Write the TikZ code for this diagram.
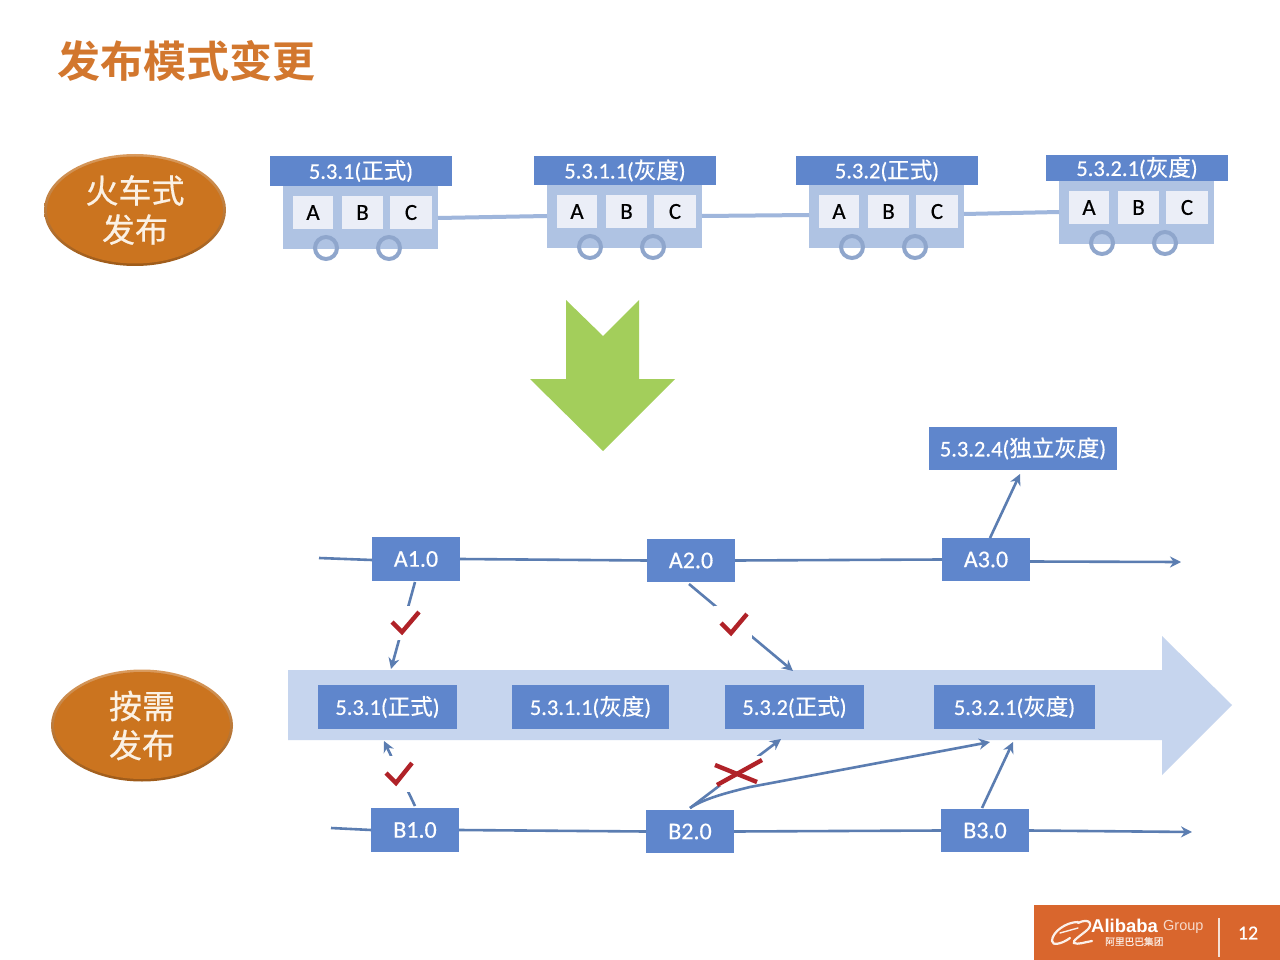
\documentclass[tikz,border=0pt]{standalone}
\usepackage{fontspec}
\setmainfont[FakeBold=0.4]{Carlito}
\newfontfamily\cjk[FakeBold=0.5]{Noto Sans CJK SC}
\newfontfamily\cjkbold{Noto Sans CJK SC Bold}
\newfontfamily\logofont{Liberation Sans}
\usetikzlibrary{arrows.meta,shapes.geometric}
\definecolor{hdr}{HTML}{5F86CC}
\definecolor{body}{HTML}{AFC3E3}
\definecolor{cell}{HTML}{EBEEF7}
\definecolor{wheel}{HTML}{8FA6CC}
\definecolor{linkc}{HTML}{9FB6DC}
\definecolor{band}{HTML}{C6D5EE}
\definecolor{flow}{HTML}{5B7DB1}
\definecolor{orangeb}{HTML}{CB741F}
\definecolor{titlec}{HTML}{D2772E}
\definecolor{greenb}{HTML}{A3CE5B}
\definecolor{markr}{HTML}{B02228}
\definecolor{foot}{HTML}{D9662D}
\definecolor{cream}{HTML}{FBF1E4}
\tikzset{
  boxbase/.style={anchor=north west,inner sep=0pt,outer sep=0pt},
  hdrbox/.style={boxbase,fill=hdr,text=white,font=\fontsize{22.5}{24}\selectfont},
  verbox/.style={hdrbox,font=\fontsize{24}{26}\selectfont},
  bodybox/.style={boxbase,fill=body},
  cellbox/.style={boxbase,fill=cell,text=black,font=\fontsize{23}{25}\selectfont},
  wheelc/.style={circle,draw=wheel,line width=4pt,minimum size=22pt,inner sep=0pt,outer sep=0pt},
  link/.style={draw=linkc,line width=4pt},
  flowl/.style={draw=flow,line width=2.6pt},
  flowa/.style={draw=flow,line width=2.6pt,-{Stealth[length=11pt,width=11pt]}},
  blob/.style={ellipse,top color=orangeb!72!white,bottom color=orangeb!78!black,text=cream,minimum width=182pt,minimum height=112pt,inner sep=0pt,align=center,font=\fontsize{33}{39}\selectfont\cjk,
    path picture={\fill[orangeb] (path picture bounding box.center) ellipse (88 and 53.5);}},
  markl/.style={draw=markr,line width=4.4pt,line join=miter},
  gap/.style={fill=white,draw=none},
  logol/.style={draw=white!90!foot,line cap=round},
}
\newcommand\rbox[7]{\node[#6,minimum width=\dimexpr #4pt-#2pt\relax,minimum height=\dimexpr #5pt-#3pt\relax] (#1) at (#2,#3) {\raisebox{-1.5pt}{#7}};}
\newcommand\train[5]{%
  \pgfmathtruncatemacro\hb{#3+#4}%
  \pgfmathtruncatemacro\bl{#2+13}\pgfmathtruncatemacro\br{#2+168}%
  \pgfmathtruncatemacro\bb{\hb+63}%
  \pgfmathtruncatemacro\cy{\hb+10}\pgfmathtruncatemacro\cb{\hb+43}%
  \pgfmathtruncatemacro\ax{#2+23}\pgfmathtruncatemacro\axx{#2+63}%
  \pgfmathtruncatemacro\bx{#2+72}\pgfmathtruncatemacro\bxx{#2+113}%
  \pgfmathtruncatemacro\ccx{#2+120}\pgfmathtruncatemacro\ccxx{#2+162}%
  \pgfmathtruncatemacro\hr{#2+182}%
  \pgfmathtruncatemacro\wa{#2+56}\pgfmathtruncatemacro\wb{#2+119}\pgfmathtruncatemacro\wy{\bb-1}%
  \rbox{#1body}{\bl}{\hb}{\br}{\bb}{bodybox}{}
  \node[wheelc] (#1wa) at (\wa,\wy) {};
  \node[wheelc] (#1wb) at (\wb,\wy) {};
  \rbox{#1hdr}{#2}{#3}{\hr}{\hb}{hdrbox}{#5}
  \rbox{#1a}{\ax}{\cy}{\axx}{\cb}{cellbox}{A}
  \rbox{#1b}{\bx}{\cy}{\bxx}{\cb}{cellbox}{B}
  \rbox{#1c}{\ccx}{\cy}{\ccxx}{\cb}{cellbox}{C}
}
\begin{document}
\begin{tikzpicture}[x=1pt,y=-1pt]
\useasboundingbox (0,0) rectangle (1280,960);
\fill[white] (0,0) rectangle (1280,960);
% title
\node[anchor=west,inner sep=0pt,text=titlec,font=\fontsize{43}{45}\selectfont\cjkbold] (title) at (57,61) {发布模式变更};
% ellipses
\node[blob] (huoche) at (135,210) {\raisebox{-2pt}{火车式}\\\raisebox{-2pt}{发布}};
\node[blob] (anxu) at (142,725.5) {\raisebox{-2pt}{按需}\\\raisebox{-2pt}{发布}};
% trains
\train{ta}{270}{156}{30}{5.3.1({\cjk 正式})}
\train{tb}{534}{156}{29}{5.3.1.1({\cjk 灰度})}
\train{tc}{796}{156}{29}{5.3.2({\cjk 正式})}
\train{td}{1046}{155}{26}{5.3.2.1({\cjk 灰度})}
\draw[link] ([yshift=-0.5pt]tabody.east) -- ([yshift=0.5pt]tbbody.west);
\draw[link] ([yshift=0.5pt]tbbody.east) -- ([yshift=1.5pt]tcbody.west);
\draw[link] ([yshift=2.5pt]tcbody.east) -- ([yshift=0.5pt]tdbody.west);
% green arrow
\fill[greenb] (566,300) -- (603,336) -- (639,300) -- (639,379) -- (675,379) -- (603,451) -- (530,379) -- (566,379) -- cycle;
% band arrow
\fill[band] (288,670) -- (1162,670) -- (1162,636) -- (1232,705) -- (1162,775) -- (1162,740) -- (288,740) -- cycle;
% boxes
\rbox{r1}{318}{685}{457}{729}{hdrbox}{5.3.1({\cjk 正式})}
\rbox{r2}{512}{685}{669}{729}{hdrbox}{5.3.1.1({\cjk 灰度})}
\rbox{r3}{725}{685}{864}{729}{hdrbox}{5.3.2({\cjk 正式})}
\rbox{r4}{934}{685}{1095}{729}{hdrbox}{5.3.2.1({\cjk 灰度})}
\rbox{a1}{372}{537}{460}{581}{verbox}{A1.0}
\rbox{a2}{647}{539}{735}{582}{verbox}{A2.0}
\rbox{a3}{942}{538}{1030}{581}{verbox}{A3.0}
\rbox{b1}{371}{808}{459}{852}{verbox}{B1.0}
\rbox{b2}{646}{810}{734}{853}{verbox}{B2.0}
\rbox{b3}{941}{809}{1029}{852}{verbox}{B3.0}
\rbox{g}{929}{427}{1117}{470}{hdrbox}{5.3.2.4({\cjk 独立灰度})}
% free ends
\coordinate (as) at (319,558);
\coordinate (ae) at (1181,562);
\coordinate (bs) at (331,828);
\coordinate (be) at (1192,832);
\coordinate (a3o) at (990,538);
\coordinate (a3t) at (1020,474);
\coordinate (a1o) at (415,582);
\coordinate (a1t) at (391,669);
\coordinate (a2o) at (689,584);
\coordinate (a2t) at (793,671);
\coordinate (b1o) at (415,806);
\coordinate (b1t) at (384,741);
\coordinate (b2o) at (690,808);
\coordinate (b2t) at (781,739);
\coordinate (b2u) at (990,742);
\coordinate (b3o) at (982,808);
\coordinate (b3t) at (1013,742);
% rows
\draw[flowl] (as) -- ([yshift=-1pt]a1.west);
\draw[flowl] (a1.east) -- (a2.west);
\draw[flowl] (a2.east) -- (a3.west);
\draw[flowa] ([yshift=-2pt]a3.east) -- (ae);
\draw[flowl] (bs) -- (b1.west);
\draw[flowl] (b1.east) -- (b2.west);
\draw[flowl] (b2.east) -- (b3.west);
\draw[flowa] (b3.east) -- (be);
% connectors
\draw[flowa] (a3o) -- (a3t);
\draw[flowa] (a1o) -- (a1t);
\draw[flowa] (a2o) -- (a2t);
\draw[flowa] (b1o) -- (b1t);
\draw[flowa] (b2o) -- (b2t);
% checks and cross, with gaps in the arrows
\fill[gap] (384,606) rectangle (424,640);
\draw[markl] (392,622) -- (402,632) -- (419,612);
\fill[gap] (714,606) rectangle (752,640);
\draw[markl] (721,623) -- (731,633) -- (747,614);
\fill[gap] (380,756) rectangle (418,792);
\draw[markl] (386,773) -- (396,783) -- (412,763);
\fill[gap] (708,756) rectangle (766,786);
\draw[flowa] (b2o) .. controls (705,798) and (730,792) .. (750,787) -- (b2u);
\draw[markl] (715,765) -- (757,782);
\draw[markl] (762,760) -- (717,785);
\draw[flowa] (b3o) -- (b3t);
% footer
\fill[foot] (1034,905) rectangle (1280,960);
\draw[logol,line width=2.2pt] (1078,922) .. controls (1066,922) and (1052,932) .. (1052,941) .. controls (1052,946) and (1062,944) .. (1070,938);
\draw[logol,line width=1.4pt] (1060,933) -- (1078,928);
\draw[logol,line width=2.2pt] (1078,923) .. controls (1090,917) and (1094,925) .. (1086,931) .. controls (1080,936) and (1072,941) .. (1074,943) .. controls (1078,945) and (1085,942) .. (1092,941);
\node[anchor=west,inner sep=0pt,text=white,font=\fontsize{18.5}{19}\selectfont\logofont\bfseries] (ali) at (1091,925.5) {Alibaba};
\node[anchor=west,inner sep=0pt,text=white!75!foot,font=\fontsize{14.5}{16}\selectfont\logofont] (grp) at (1163,927) {Group};
\node[anchor=west,inner sep=0pt,text=white!85!foot,font=\fontsize{9.7}{12}\selectfont\cjk] (alicn) at (1105,941.5) {阿里巴巴集团};
\draw[white!80!foot,line width=1.6pt] (1219,918) -- (1219,957);
\node[text=white,inner sep=0pt,font=\fontsize{20}{22}\selectfont] (pg) at (1248,933) {12};
\end{tikzpicture}
\end{document}
